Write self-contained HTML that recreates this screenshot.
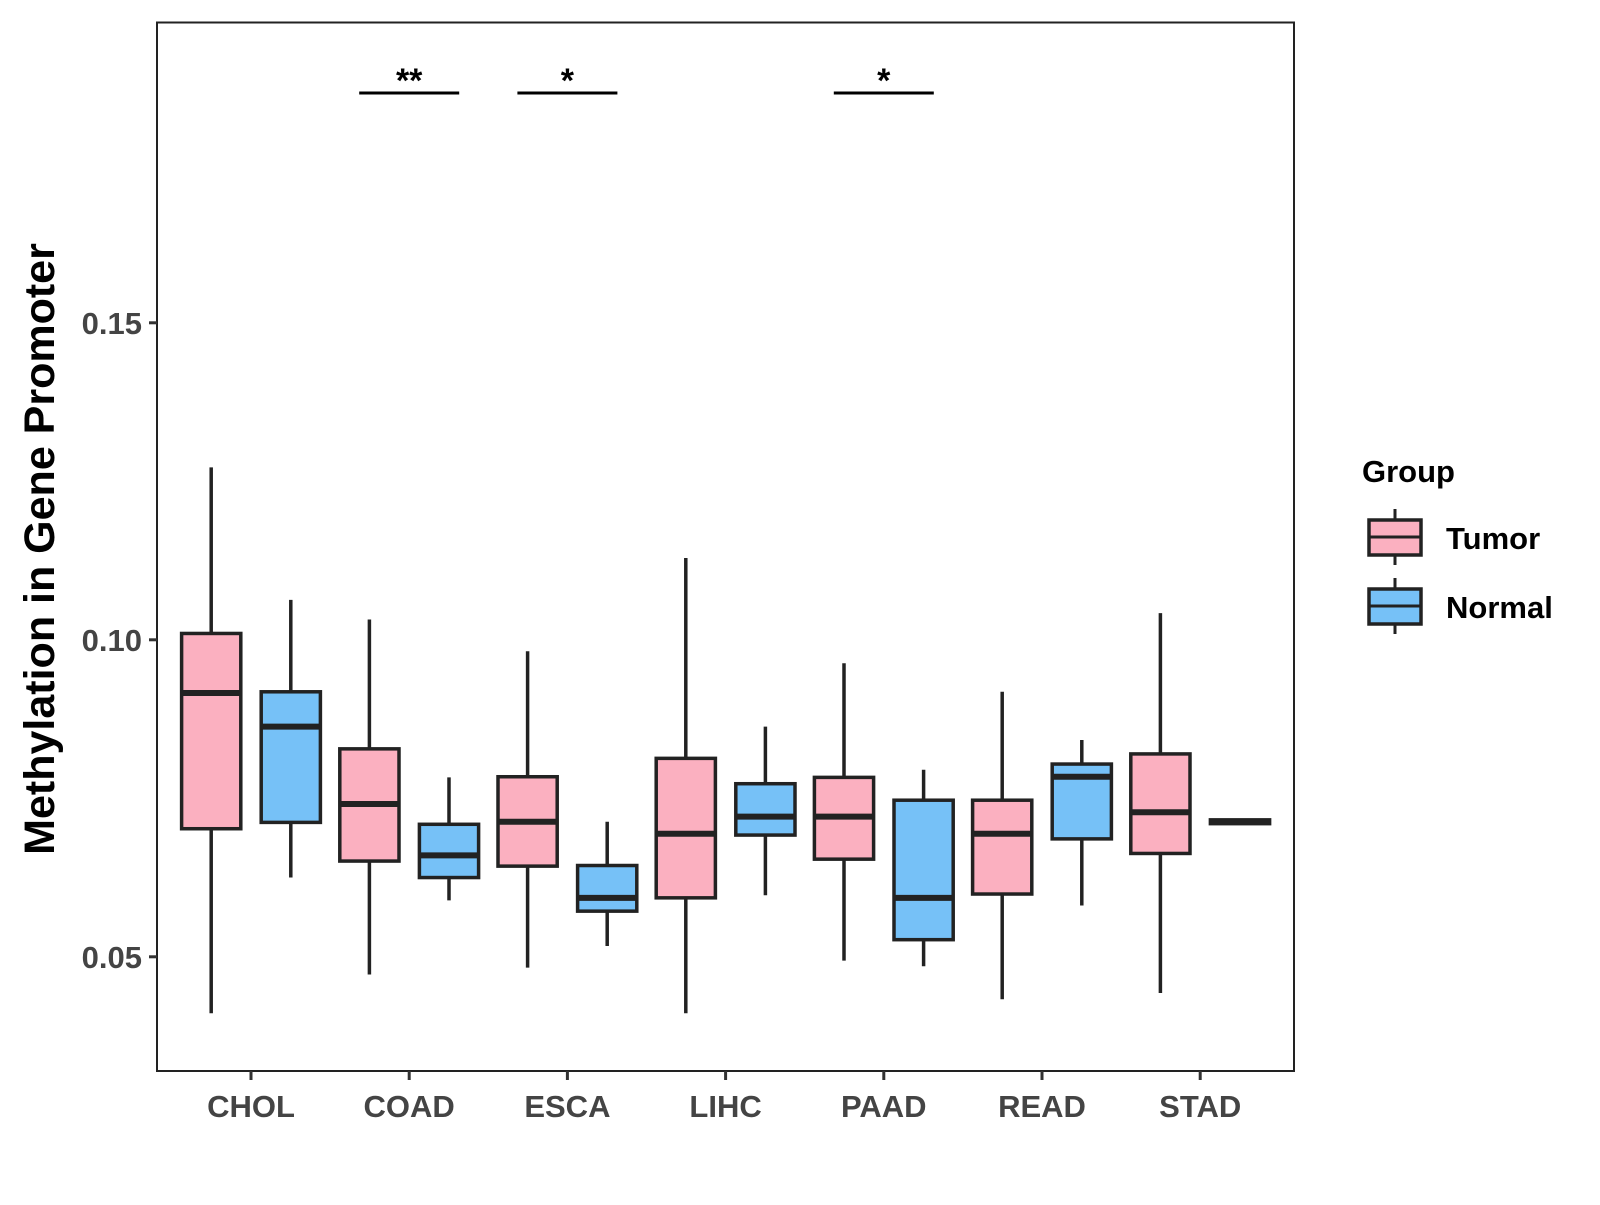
<!DOCTYPE html>
<html><head><meta charset="utf-8"><style>
body{margin:0;background:#fff;width:1600px;height:1200px;overflow:hidden}
svg{font-family:"Liberation Sans",Arial,sans-serif;font-weight:bold}
</style></head><body>
<svg id="chart" width="1600" height="1200">
<rect x="157" y="22.5" width="1137" height="1048.5" fill="#fff" stroke="#222" stroke-width="2"/>
<g id="yaxis"></g>
<g id="xaxis"></g>
<g id="boxes"></g>
<g id="sig"></g>
<text x="54" y="549" transform="rotate(-90 54 549)" text-anchor="middle" font-size="43" fill="#000">Methylation in Gene Promoter</text>
<g>
<text x="1362" y="482" font-size="31" fill="#000">Group</text>
<g>
<line x1="1395" y1="509" x2="1395" y2="565" stroke="#222" stroke-width="3"/>
<rect x="1369" y="520" width="52" height="35" fill="#FBB0C0" stroke="#222" stroke-width="3.5"/>
<line x1="1369" y1="537" x2="1421" y2="537" stroke="#222" stroke-width="3"/>
<text x="1446" y="549" font-size="31" fill="#000">Tumor</text></g>
<g>
<line x1="1395" y1="578" x2="1395" y2="634" stroke="#222" stroke-width="3"/>
<rect x="1369" y="589" width="52" height="35" fill="#76C1F7" stroke="#222" stroke-width="3.5"/>
<line x1="1369" y1="606" x2="1421" y2="606" stroke="#222" stroke-width="3"/>
<text x="1446" y="618" font-size="31" fill="#000">Normal</text></g>
</g>
</svg>
<script>
const categories=["CHOL","COAD","ESCA","LIHC","PAAD","READ","STAD"];
const tumorStats=[[0.0411,0.0702,0.0916,0.1010,0.1272],[0.0472,0.0651,0.0741,0.0828,0.1032],[0.0483,0.0643,0.0713,0.0784,0.0982],[0.0411,0.0593,0.0694,0.0813,0.1129],[0.0494,0.0654,0.0721,0.0783,0.0963],[0.0433,0.0599,0.0694,0.0747,0.0918],[0.0443,0.0663,0.0728,0.0820,0.1042]];
const normalStats=[[0.0625,0.0712,0.0863,0.0918,0.1063],[0.0589,0.0625,0.0660,0.0709,0.0783],[0.0517,0.0572,0.0593,0.0644,0.0713],[0.0597,0.0692,0.0721,0.0773,0.0863],[0.0485,0.0527,0.0593,0.0747,0.0795],[0.0581,0.0686,0.0784,0.0804,0.0842],[0.0711,0.0710,0.0713,0.0716,0.0715]];
const yTicks=[0.05,0.10,0.15];
const yTickLabels=["0.05","0.10","0.15"];
const sigCats=["COAD","ESCA","PAAD"];
const sigLabels=["**","*","*"];
const NS="http://www.w3.org/2000/svg";
function y(v){return 639.8-(v-0.10)*6340;}
function x(i){return 251+i*158.2;}
function mk(tag,attrs,parent){const e=document.createElementNS(NS,tag);for(const k in attrs)e.setAttribute(k,attrs[k]);parent.appendChild(e);return e;}
const ya=document.getElementById('yaxis'),xa=document.getElementById('xaxis'),bx=document.getElementById('boxes'),sg=document.getElementById('sig');
yTicks.forEach((t,i)=>{
 const l=mk('line',{x1:149,x2:157,y1:y(t),y2:y(t),stroke:'#333','stroke-width':3},ya);
 
 
 const tx=mk('text',{x:142,y:y(t)+11,'text-anchor':'end','font-size':31,fill:'#444'},ya);
 tx.textContent=yTickLabels[i];
 
 
});
categories.forEach((c,i)=>{
 const l=mk('line',{x1:x(i),x2:x(i),y1:1071,y2:1080,stroke:'#333','stroke-width':3},xa);
 
 
 const tx=mk('text',{x:x(i),y:1117,'text-anchor':'middle','font-size':31,fill:'#444'},xa);
 tx.textContent=c;
 
 
});
function drawBox(cx,s,fill,name){
 const g=mk('g',{},bx);
 
 
 mk('line',{x1:cx,x2:cx,y1:y(s[4]),y2:y(s[0]),stroke:'#222','stroke-width':3.5},g);
 mk('rect',{x:cx-29.6,y:y(s[3]),width:59.2,height:Math.max(y(s[1])-y(s[3]),1),fill:fill,stroke:'#222','stroke-width':3.5},g);
 mk('line',{x1:cx-29.6,x2:cx+29.6,y1:y(s[2]),y2:y(s[2]),stroke:'#222','stroke-width':6},g);
}
categories.forEach((c,i)=>{
 drawBox(x(i)-39.8,tumorStats[i],'#FBB0C0','box-tumor-'+c.toLowerCase());
 drawBox(x(i)+39.8,normalStats[i],'#76C1F7','box-normal-'+c.toLowerCase());
});
sigCats.forEach((c,k)=>{
 const i=categories.indexOf(c);
 const l=mk('line',{x1:x(i)-50,x2:x(i)+50,y1:93,y2:93,stroke:'#000','stroke-width':3},sg);
 
 
 const tx=mk('text',{x:x(i),y:92,'text-anchor':'middle','font-size':34,fill:'#000'},sg);
 tx.textContent=sigLabels[k];
 
 
});
</script>
</body></html>
